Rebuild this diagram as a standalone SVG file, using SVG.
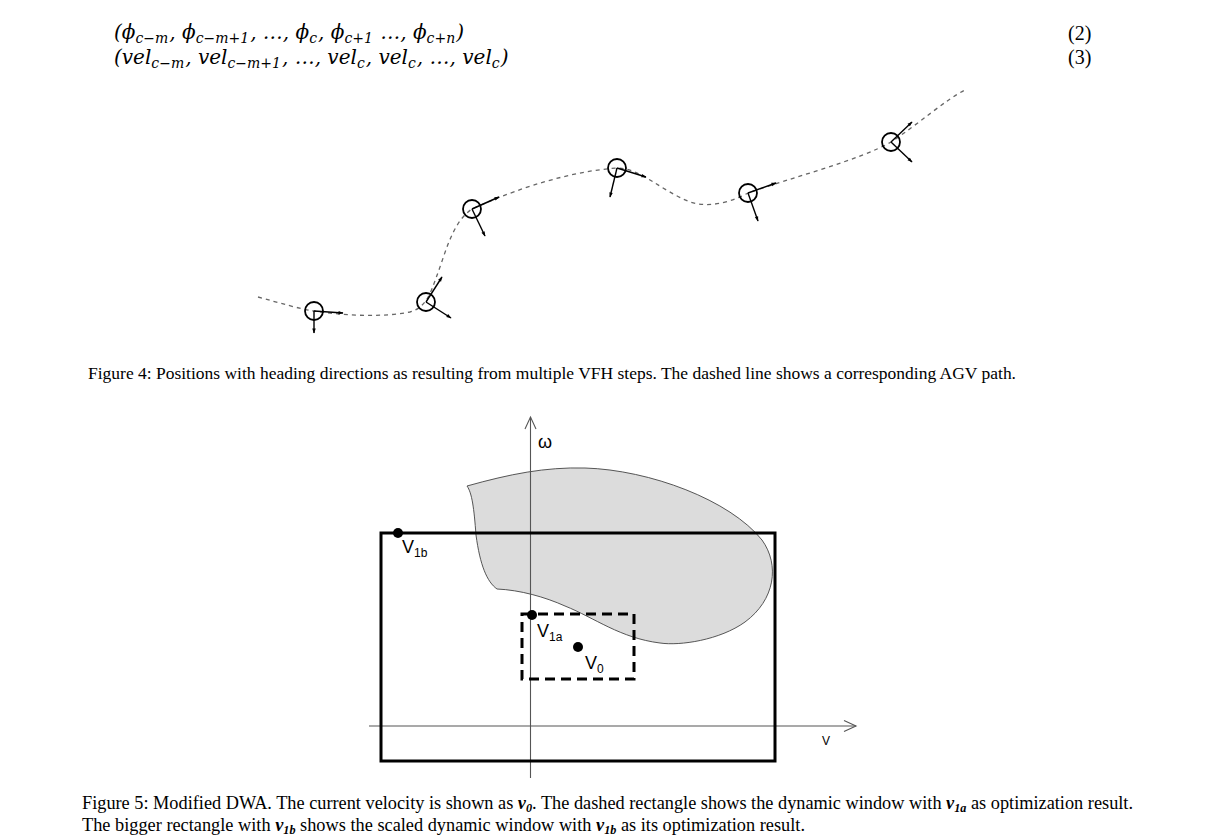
<svg xmlns="http://www.w3.org/2000/svg" width="1226" height="840" viewBox="0 0 1226 840">
<defs>
<style>
.math{font-family:"DejaVu Serif","Liberation Serif",serif;font-style:italic;font-size:20px;fill:#000}
.msub{font-size:14px}
.eqn{font-family:"Liberation Serif",serif;font-size:20px;fill:#000}
.cap{font-family:"Liberation Serif",serif;font-size:17.5px;fill:#000}
.cap5{font-family:"Liberation Serif",serif;font-size:18px;fill:#000}
.bv{font-weight:bold;font-style:italic}
.bsub{font-weight:bold;font-style:italic;font-size:12px}
.lbl{font-family:"Liberation Sans","Open Sans",sans-serif;fill:#000}
.path{fill:none;stroke:#666;stroke-width:1.3;stroke-dasharray:4 4}
.body{fill:none;stroke:#000;stroke-width:1.8}
.dir{stroke:#000;stroke-width:1.4;marker-end:url(#ah)}
.axis{stroke:#555;stroke-width:1.1;fill:none;marker-end:url(#open)}
.dot{fill:#000}
</style>
<marker id="ah" viewBox="0 0 10 10" refX="9" refY="5" markerWidth="6" markerHeight="5" markerUnits="userSpaceOnUse" orient="auto"><path d="M0,1.5 L10,5 L0,8.5 z" fill="#000"/></marker>
<marker id="open" viewBox="0 0 12 12" refX="12" refY="6" markerWidth="12" markerHeight="12" markerUnits="userSpaceOnUse" orient="auto" overflow="visible"><path d="M0,0.5 L12,6 L0,11.5" fill="none" stroke="#555" stroke-width="1.1"/></marker>
</defs>
<rect width="1226" height="840" fill="#fff"/>

<g id="equations">
<text class="math" x="114" y="39">(ϕ<tspan class="msub" dy="4">c−m</tspan><tspan dx="1" dy="-4">, ϕ</tspan><tspan class="msub" dy="4">c−m+1</tspan><tspan dx="1" dy="-4">, …, ϕ</tspan><tspan class="msub" dy="4">c</tspan><tspan dx="1" dy="-4">, ϕ</tspan><tspan class="msub" dy="4">c+1</tspan><tspan dx="1" dy="-4">  …, ϕ</tspan><tspan class="msub" dy="4">c+n</tspan><tspan dx="1" dy="-4">)</tspan></text>
<text class="math" x="114" y="64">(vel<tspan class="msub" dy="4">c−m</tspan><tspan dx="1" dy="-4">, vel</tspan><tspan class="msub" dy="4">c−m+1</tspan><tspan dx="1" dy="-4">, …, vel</tspan><tspan class="msub" dy="4">c</tspan><tspan dx="1" dy="-4">, vel</tspan><tspan class="msub" dy="4">c</tspan><tspan dx="1" dy="-4">, …, vel</tspan><tspan class="msub" dy="4">c</tspan><tspan dx="1" dy="-4">)</tspan></text>
<text class="eqn" x="1068" y="40">(2)</text>
<text class="eqn" x="1068" y="64">(3)</text>
</g>

<g id="connectors">
<path class="path" d="M258,297 C280,303 300,309 314,311 C340,315 380,318 410,312 C425,308 430,295 436,278 C445,255 452,222 472,209 C500,196 560,172 617,168 C640,168 660,190 690,202 C712,209 735,200 748,193 C790,178 860,160 891,142 C920,123 945,100 965,90"/>
</g>

<g id="robot1"><circle class="body" cx="314" cy="311" r="9"/><line class="dir" x1="314" y1="311" x2="343" y2="313"/><line class="dir" x1="314" y1="311" x2="314" y2="333"/></g>
<g id="robot2"><circle class="body" cx="426" cy="302" r="9"/><line class="dir" x1="426" y1="302" x2="442" y2="277"/><line class="dir" x1="426" y1="302" x2="451" y2="318"/></g>
<g id="robot3"><circle class="body" cx="472" cy="209" r="9"/><line class="dir" x1="472" y1="209" x2="499" y2="197"/><line class="dir" x1="472" y1="209" x2="485" y2="236"/></g>
<g id="robot4"><circle class="body" cx="617" cy="168" r="9"/><line class="dir" x1="617" y1="168" x2="646" y2="177"/><line class="dir" x1="617" y1="168" x2="610" y2="197"/></g>
<g id="robot5"><circle class="body" cx="748" cy="193" r="9"/><line class="dir" x1="748" y1="193" x2="776" y2="183"/><line class="dir" x1="748" y1="193" x2="758" y2="221"/></g>
<g id="robot6"><circle class="body" cx="891" cy="142" r="9"/><line class="dir" x1="891" y1="142" x2="912" y2="122"/><line class="dir" x1="891" y1="142" x2="912" y2="162"/></g>

<g id="caption4">
<text class="cap" x="88" y="379" textLength="928" lengthAdjust="spacingAndGlyphs">Figure 4: Positions with heading directions as resulting from multiple VFH steps. The dashed line shows a corresponding AGV path.</text>
</g>

<g id="blob">
<path d="M467,486 C510,474 545,467 585,468 C650,470 730,500 762,540 C780,565 775,600 745,622 C720,640 680,646 660,643 C620,638 595,618 565,606 C545,597 520,590 497,589 C487,582 480,565 476,535 C474,508 472,493 467,486 Z" fill="#dcdcdc" stroke="#444" stroke-width="0.9"/>
</g>

<g id="axes">
<line class="axis" x1="530.5" y1="778" x2="530.5" y2="417"/>
<line class="axis" x1="369" y1="726" x2="856" y2="726"/>
<text class="lbl" x="538" y="448" font-size="18" fill="#333">ω</text>
<text class="lbl" x="822" y="745" font-size="12">V</text>
</g>

<g id="scaled-window">
<rect x="381" y="533" width="394" height="228" fill="none" stroke="#000" stroke-width="3"/>
</g>
<g id="dynamic-window">
<rect x="522" y="614" width="112" height="65" fill="none" stroke="#000" stroke-width="3" stroke-dasharray="10 6"/>
</g>

<g id="v1b"><circle class="dot" cx="398" cy="533" r="5"/><text class="lbl" x="402" y="553" font-size="18">V<tspan font-size="12" dy="4">1b</tspan></text></g>
<g id="v1a"><circle class="dot" cx="532" cy="615" r="5"/><text class="lbl" x="537" y="637" font-size="18">V<tspan font-size="12" dy="4">1a</tspan></text></g>
<g id="v0"><circle class="dot" cx="578" cy="647" r="5"/><text class="lbl" x="585" y="669" font-size="18">V<tspan font-size="12" dy="4">0</tspan></text></g>

<g id="caption5">
<text class="cap5" x="82" y="809" textLength="1051" lengthAdjust="spacingAndGlyphs">Figure 5: Modified DWA. The current velocity is shown as <tspan class="bv">v</tspan><tspan class="bsub" dy="3">0</tspan><tspan dy="-3">. The dashed rectangle shows the dynamic window with </tspan><tspan class="bv">v</tspan><tspan class="bsub" dy="3">1a</tspan><tspan dy="-3"> as optimization result.</tspan></text>
<text class="cap5" x="82" y="831" textLength="723" lengthAdjust="spacingAndGlyphs">The bigger rectangle with <tspan class="bv">v</tspan><tspan class="bsub" dy="3">1b</tspan><tspan dy="-3"> shows the scaled dynamic window with </tspan><tspan class="bv">v</tspan><tspan class="bsub" dy="3">1b</tspan><tspan dy="-3"> as its optimization result.</tspan></text>
</g>
</svg>
